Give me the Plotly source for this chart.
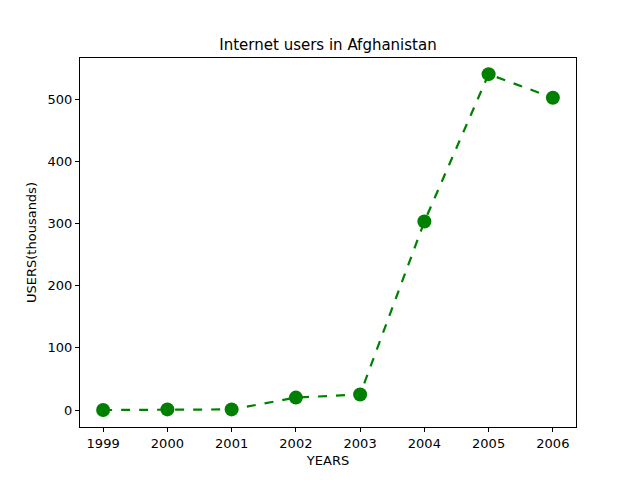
import plotly.graph_objects as go

years = [1999, 2000, 2001, 2002, 2003, 2004, 2005, 2006]
users = [0, 1, 1, 20, 25, 303, 540, 502]

fig = go.Figure()
fig.add_trace(go.Scatter(
    x=years, y=users, mode="lines+markers",
    line=dict(color="green", width=2.2, dash="dash"),
    marker=dict(color="green", size=14),
))

axis = dict(showgrid=False, zeroline=False, showline=True, linecolor="black",
            mirror=True, ticks="outside", ticklen=4, tickcolor="black",
            tickfont=dict(size=13, color="black"))

fig.update_layout(
    width=640, height=480,
    margin=dict(l=72, r=72, t=50, b=61),
    paper_bgcolor="white", plot_bgcolor="white",
    font=dict(family="DejaVu Sans", color="black"),
    title=dict(text="Internet users in Afghanistan", x=0.5, xanchor="center",
               y=1 - 37 / 480, yanchor="middle", font=dict(size=15)),
    showlegend=False,
    xaxis=dict(axis, range=[1998.64, 2006.36], tickvals=years,
               title=dict(text="YEARS", font=dict(size=13), standoff=6)),
    yaxis=dict(axis, range=[-27.3, 566], tickvals=[0, 100, 200, 300, 400, 500],
               title=dict(text="USERS(thousands)", font=dict(size=13), standoff=8)),
)

fig.write_html("out.html")
